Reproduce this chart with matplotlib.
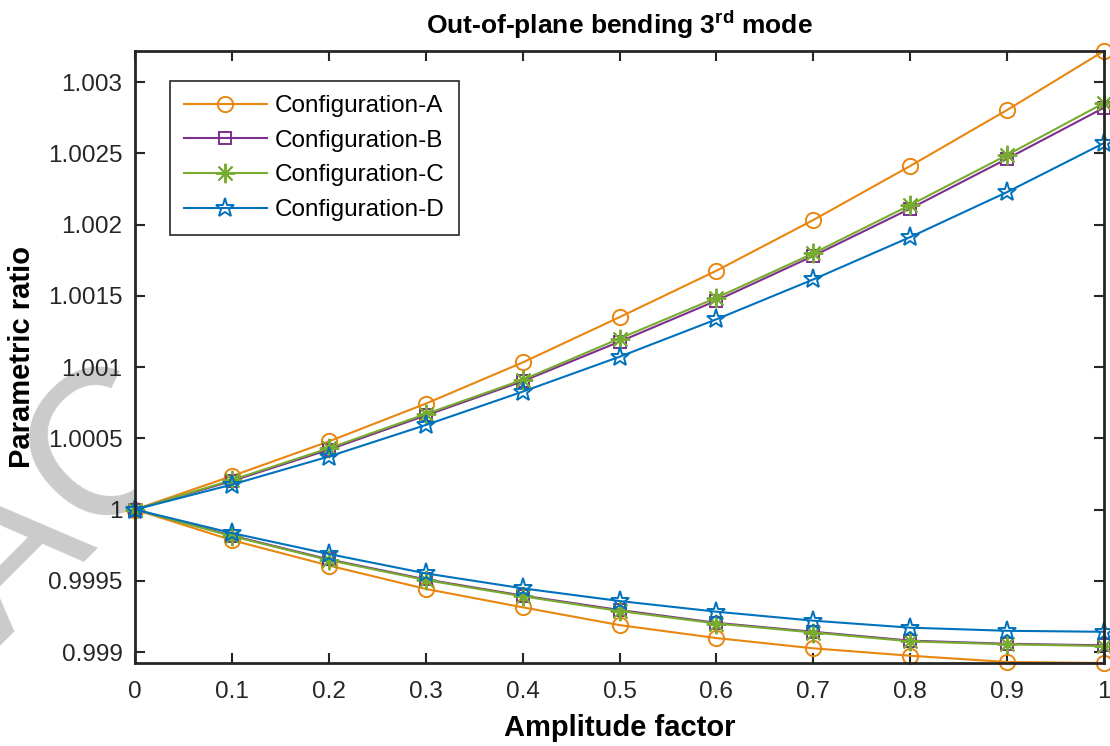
import matplotlib
matplotlib.use("Agg")
import matplotlib.pyplot as plt

plt.rcParams['font.family'] = ['Liberation Sans', 'DejaVu Sans']
plt.rcParams['mathtext.fontset'] = 'custom'
plt.rcParams['mathtext.rm'] = 'Liberation Sans:bold'
plt.rcParams['mathtext.bf'] = 'Liberation Sans:bold'

amplitude = [0.0, 0.1, 0.2, 0.3, 0.4, 0.5, 0.6, 0.7, 0.8, 0.9, 1.0]

upper_A = [1.0, 1.000235, 1.000478, 1.000743, 1.001032, 1.001350, 1.001676, 1.002032, 1.002411, 1.002804, 1.003218]
upper_B = [1.0, 1.000200, 1.000420, 1.000660, 1.000900, 1.001178, 1.001466, 1.001780, 1.002112, 1.002462, 1.002820]
upper_C = [1.0, 1.000207, 1.000430, 1.000670, 1.000910, 1.001200, 1.001486, 1.001798, 1.002137, 1.002488, 1.002853]
upper_D = [1.0, 1.000175, 1.000372, 1.000593, 1.000827, 1.001072, 1.001335, 1.001615, 1.001912, 1.002228, 1.002572]

lower_A = [1.0, 0.999785, 0.999607, 0.999443, 0.999314, 0.999189, 0.999098, 0.999026, 0.998974, 0.998930, 0.998923]
lower_B = [1.0, 0.999817, 0.999650, 0.999510, 0.999396, 0.999295, 0.999205, 0.999142, 0.999080, 0.999058, 0.999047]
lower_C = [1.0, 0.999813, 0.999645, 0.999505, 0.999391, 0.999288, 0.999200, 0.999137, 0.999075, 0.999054, 0.999042]
lower_D = [1.0, 0.999835, 0.999688, 0.999552, 0.999447, 0.999358, 0.999283, 0.999220, 0.999171, 0.999149, 0.999142]

labels = ['Configuration-A', 'Configuration-B', 'Configuration-C', 'Configuration-D']
colors = ['#E8860F', '#7E2F8E', '#77AC30', '#0072BD']
markers = ['o', 's', (8, 2, 0), '*']
msizes = [11, 9, 14, 14]

yticks = [0.999, 0.9995, 1.0, 1.0005, 1.001, 1.0015, 1.002, 1.0025, 1.003]
ytick_labels = ['0.999', '0.9995', '1', '1.0005', '1.001', '1.0015', '1.002', '1.0025', '1.003']
xticks = [0, 0.1, 0.2, 0.3, 0.4, 0.5, 0.6, 0.7, 0.8, 0.9, 1.0]
xtick_labels = ['0', '0.1', '0.2', '0.3', '0.4', '0.5', '0.6', '0.7', '0.8', '0.9', '1']

fig = plt.figure(figsize=(11.10, 7.46), dpi=100)
ax = fig.add_axes([135/1110, 1-663/746, (1104-135)/1110, (663-51)/746])
ax.set_zorder(1)
ax.set_facecolor('white')

# faint watermark, hidden behind the axes area
wm = fig.text(0.0, 0.135, 'ACC', fontsize=150, color='#cbcbcb',
              rotation=45, rotation_mode='anchor', ha='left', va='baseline')
wm.set_zorder(0)

uppers = [upper_A, upper_B, upper_C, upper_D]
lowers = [lower_A, lower_B, lower_C, lower_D]
for up, lo, lab, c, m, ms in zip(uppers, lowers, labels, colors, markers, msizes):
    ax.plot(amplitude, up, color=c, marker=m, markersize=ms, markerfacecolor='none',
            markeredgecolor=c, markeredgewidth=1.4, linewidth=1.5, label=lab, clip_on=False)
    ax.plot(amplitude, lo, color=c, marker=m, markersize=ms, markerfacecolor='none',
            markeredgecolor=c, markeredgewidth=1.4, linewidth=1.5, clip_on=False)

all_vals = upper_A + upper_B + upper_C + upper_D + lower_A + lower_B + lower_C + lower_D
ax.set_xlim(0, 1)
ax.set_ylim(min(all_vals), max(all_vals))
ax.set_xticks(xticks)
ax.set_xticklabels(xtick_labels)
ax.set_yticks(yticks)
ax.set_yticklabels(ytick_labels)

ax.tick_params(direction='in', length=7, width=1.5, top=True, right=True,
               labelsize=17.5, colors='#262626', labelcolor='#262626')
ax.tick_params(axis='y', pad=9)
ax.tick_params(axis='x', pad=13)
for s in ax.spines.values():
    s.set_linewidth(2.0)
    s.set_color('#262626')

ax.set_xlabel('Amplitude factor', fontsize=21, fontweight='bold', labelpad=8)
ax.set_ylabel('Parametric ratio', fontsize=21, fontweight='bold', labelpad=8.5)
ax.set_title('Out-of-plane bending 3$^{\\mathrm{rd}}$ mode', fontsize=19, fontweight='bold', pad=12)

leg = ax.legend(loc='upper left', bbox_to_anchor=((170-135)/969, (663-81)/612),
                borderaxespad=0, fontsize=17.5, frameon=True, fancybox=False,
                edgecolor='#262626', framealpha=1, handlelength=3.4, handletextpad=0.35,
                labelspacing=0.52, borderpad=0.58)
leg.get_frame().set_linewidth(1.2)

fig.savefig('out.png', dpi=100)
